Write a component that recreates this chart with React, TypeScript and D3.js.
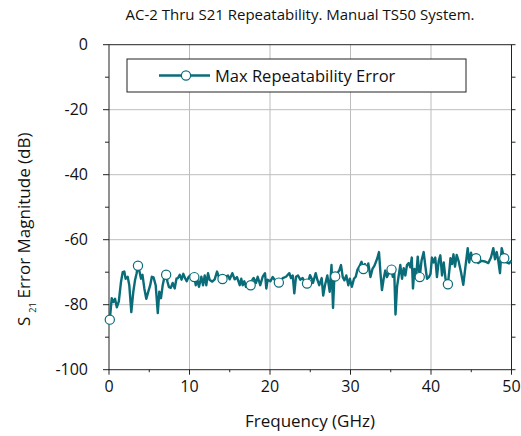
import React from "react";
import * as d3 from "d3";

const title = "AC-2 Thru S21 Repeatability. Manual TS50 System.";
const seriesName = "Max Repeatability Error";
const xTicks = [0, 10, 20, 30, 40, 50];
const xMinor = [5, 15, 25, 35, 45];
const yTicks = [0, -20, -40, -60, -80, -100];
const yMinor = [-10, -30, -50, -70, -90];

// line samples (GHz, dB)
const freq = [
  0.1, 0.34, 0.53, 0.75, 0.97, 1.22, 1.49, 1.7, 1.9, 2.07, 2.32, 2.52, 2.77, 3.02, 3.23, 3.42,
  3.6, 3.79, 3.98, 4.16, 4.39, 4.63, 4.88, 5.12, 5.32, 5.53, 5.8, 6.06, 6.25, 6.46, 6.67, 6.89,
  7.1, 7.27, 7.45, 7.68, 7.91, 8.16, 8.38, 8.57, 8.79, 9.01, 9.23, 9.44, 9.65, 9.88, 10.1, 10.31,
  10.6, 10.78, 10.96, 11.18, 11.47, 11.68, 11.89, 12.09, 12.3, 12.51, 12.83, 13.13, 13.42, 13.66, 13.89,
  14.1, 14.29, 14.5, 14.78, 14.99, 15.32, 15.61, 15.9, 16.24, 16.43, 16.61, 16.81, 17.02, 17.27,
  17.6, 17.8, 17.97, 18.26, 18.47, 18.79, 19.09, 19.38, 19.54, 19.71, 20.04, 20.33, 20.62,
  21.1, 21.24, 21.58, 21.99, 22.4, 22.61, 22.82, 23.02, 23.23, 23.48, 23.76, 24.06, 24.35,
  24.6, 24.8, 24.97, 25.18, 25.34, 25.68, 25.88, 26.12, 26.42, 26.61, 26.83, 27.12, 27.42, 27.64, 27.83, 27.99,
  28.1, 28.36, 28.6, 28.82, 29.04, 29.25, 29.48, 29.73, 29.92, 30.17, 30.43, 30.65, 30.87, 31.09, 31.37,
  31.6, 31.8, 31.99, 32.21, 32.48, 32.73, 32.98, 33.33, 33.54, 33.73, 33.91, 34.12, 34.32, 34.53, 34.78,
  35.1, 35.25, 35.43, 35.59, 35.78, 35.99, 36.19, 36.4, 36.61, 36.81, 37.02, 37.23, 37.43, 37.61, 37.76, 37.95, 38.17, 38.35,
  38.6, 38.82, 39.09, 39.29, 39.5, 39.75, 39.94, 40.12, 40.33, 40.53, 40.74, 40.96, 41.16, 41.37, 41.58, 41.8,
  42.1, 42.3, 42.42, 42.61, 42.79, 42.98, 43.19, 43.42, 43.73, 44.01, 44.28, 44.56, 44.74, 44.97, 45.22,
  45.6, 45.87, 46.3, 46.71, 47.12, 47.45, 47.74, 47.95, 48.16, 48.36, 48.57, 48.78,
  49.1, 49.4, 49.69, 50.0,
];
const errorDb = [
  -84.6, -78, -79.2, -78.2, -80.8, -79, -73, -70, -69.8, -72, -71.4, -74, -82.3, -76, -72.5, -70.5,
  -68, -69.8, -72, -70.8, -75, -78.2, -76, -74, -71.4, -71.6, -74, -82.6, -76, -78, -74, -71.5,
  -70.8, -73, -74.6, -74.8, -73.3, -75, -72, -71.8, -70.8, -72.3, -70.5, -71.8, -72.8, -71.5, -71, -71.8,
  -71.5, -74, -72.2, -74.5, -71.4, -74, -71, -74, -70.3, -72.4, -72.9, -72.2, -69.8, -71.5, -72.4,
  -72.1, -71.8, -71.4, -71, -72.2, -70.3, -72.2, -71.5, -74, -72, -74, -72.8, -74.5, -73.5,
  -74, -72.4, -71.8, -73.3, -71.4, -74, -71.4, -70.3, -75, -72.3, -72.8, -71.5, -72.5,
  -73.2, -73.5, -71.8, -71.4, -70.3, -71.8, -71, -76.5, -71.4, -71, -72.3, -71.8, -73.3,
  -73.5, -72.5, -70.9, -72, -73.3, -70.3, -72.3, -74, -71.8, -77.2, -74, -71, -76, -67.8, -81, -72,
  -71.3, -70.3, -69.5, -67.8, -71.5, -72.5, -71, -74, -72, -74.5, -72, -71.4, -69.2, -68.3, -66.8,
  -69, -67.5, -69.5, -67.3, -71.5, -69, -68, -65.7, -63.8, -70.5, -75.5, -72, -69.5, -71.5, -70,
  -69.2, -71.4, -69.5, -83, -74.5, -71, -67.8, -72, -68.8, -71, -67.8, -67.2, -68.5, -65.5, -75, -69, -71, -65.2,
  -71.5, -66.5, -63.8, -68, -72, -71.5, -70.5, -65.5, -67, -65.5, -71.5, -66.5, -64.8, -71, -67, -72,
  -73.7, -69, -65.7, -67.5, -64.5, -68.3, -64.7, -66.5, -70, -73.9, -68.3, -62.6, -67, -64, -66.5,
  -65.7, -67.2, -66.5, -66.7, -67.2, -65.5, -62.6, -66, -63.8, -66.5, -70.3, -62.6,
  -65.7, -67, -67.3, -66.5,
];

// marker symbols (GHz, dB)
const markerFreq = [0.1, 3.6, 7.1, 10.6, 14.1, 17.6, 21.1, 24.6, 28.1, 31.6, 35.1, 38.6, 42.1, 45.6, 49.1];
const markerDb = [-84.6, -68, -70.8, -71.5, -72.1, -74, -73.2, -73.5, -71.3, -69, -69.2, -71.5, -73.7, -65.7, -65.7];

const W = 521;
const H = 436;
const teal = "#0a6c78";
const font = "'Open Sans', sans-serif";

export default function App() {
  const x = d3.scaleLinear().domain([0, 50]).range([109, 511.5]);
  const y = d3.scaleLinear().domain([-100, 0]).range([369.7, 44.7]);
  const pts: [number, number][] = freq.map((f, i) => [f, errorDb[i]]);
  const line = d3
    .line<[number, number]>()
    .x((d) => x(d[0]))
    .y((d) => y(d[1]));
  const [x0, x1] = x.range();
  const [yb, yt] = y.range();

  return (
    <svg
      width={W}
      height={H}
      style={{ position: "absolute", left: 0, top: 0, background: "#fff" }}
      fontFamily={font}
    >
      <rect x={0} y={0} width={W} height={H} fill="#fff" />
      <text x={300} y={20} textAnchor="middle" fontSize={15} fill="#111">
        {title}
      </text>
      {/* grid */}
      {xTicks.slice(1, -1).map((t) => (
        <line key={"gx" + t} x1={x(t)} x2={x(t)} y1={yb} y2={yt} stroke="#bdbdbd" strokeWidth={1} />
      ))}
      {yTicks.slice(1, -1).map((t) => (
        <line key={"gy" + t} x1={x0} x2={x1} y1={y(t)} y2={y(t)} stroke="#bdbdbd" strokeWidth={1} />
      ))}
      {/* frame */}
      <rect x={x0} y={yt} width={x1 - x0} height={yb - yt} fill="none" stroke="#222" strokeWidth={1} />
      {/* y ticks */}
      {yTicks.map((t) => (
        <g key={"yt" + t}>
          <line x1={x0 - 6} x2={x0} y1={y(t)} y2={y(t)} stroke="#222" />
          <line x1={x1} x2={x1 + 4} y1={y(t)} y2={y(t)} stroke="#222" />
          <text x={x0 - 21} y={y(t) + 5.5} textAnchor="end" fontSize={16} fill="#111">
            {t}
          </text>
        </g>
      ))}
      {yMinor.map((t) => (
        <g key={"ym" + t}>
          <line x1={x0 - 4} x2={x0} y1={y(t)} y2={y(t)} stroke="#222" />
          <line x1={x1} x2={x1 + 4} y1={y(t)} y2={y(t)} stroke="#222" />
        </g>
      ))}
      {/* x ticks */}
      {xTicks.map((t) => (
        <g key={"xt" + t}>
          <line x1={x(t)} x2={x(t)} y1={yb} y2={yb + 5} stroke="#222" />
          <text x={x(t)} y={yb + 22} textAnchor="middle" fontSize={16} fill="#111">
            {t}
          </text>
        </g>
      ))}
      {xMinor.map((t) => (
        <line key={"xm" + t} x1={x(t)} x2={x(t)} y1={yb} y2={yb + 2.5} stroke="#222" />
      ))}
      {/* axis titles */}
      <text x={310} y={427} textAnchor="middle" fontSize={17} fill="#111">
        Frequency (GHz)
      </text>
      <text transform="translate(30,326) rotate(-90)" fontSize={17} fill="#111">
        <tspan>S</tspan>
        <tspan dx={4} dy={6} fontSize={9}>21</tspan>
        <tspan dx={4} dy={-6}>Error Magnitude (dB)</tspan>
      </text>
      {/* data */}
      <path d={line(pts) || ""} fill="none" stroke={teal} strokeWidth={2.4} strokeLinejoin="round" />
      {markerFreq.map((f, i) => (
        <circle key={"m" + i} cx={x(f)} cy={y(markerDb[i])} r={4.6} fill="#fff" stroke={teal} strokeWidth={1.2} />
      ))}
      {/* legend */}
      <rect x={127} y={59} width={339} height={33} fill="#fff" stroke="#222" strokeWidth={1} />
      <line x1={159} x2={210} y1={75.5} y2={75.5} stroke={teal} strokeWidth={2.4} />
      <circle cx={186} cy={75.5} r={4.6} fill="#fff" stroke={teal} strokeWidth={1.2} />
      <text x={215} y={81.5} fontSize={16.5} fill="#111">
        {seriesName}
      </text>
    </svg>
  );
}
